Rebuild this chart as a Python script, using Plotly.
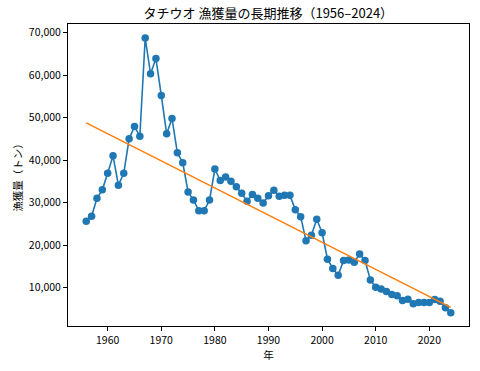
import numpy as np
import plotly.graph_objects as go

years = list(range(1956, 2025))
catch = [
    25600, 26800, 31000, 33000, 36900, 41000, 34100, 36900, 45000, 47900,  # 1956-1965
    45600, 68700, 60300, 63900, 55200, 46200, 49800, 41700, 39400, 32500,  # 1966-1975
    30600, 28100, 28100, 30600, 37900, 35200, 36000, 35000, 33700, 32200,  # 1976-1985
    30300, 31900, 31000, 29900, 31600, 32900, 31500, 31700, 31700, 28300,  # 1986-1995
    26700, 21000, 22300, 26100, 22900, 16700, 14500, 12900, 16400, 16500,  # 1996-2005
    16000, 17900, 16400, 11800, 10100, 9700, 9100, 8400, 8100, 7000,      # 2006-2015
    7300, 6200, 6500, 6500, 6500, 7200, 6800, 5300, 4100,                 # 2016-2024
]
y_ticks = [10000, 20000, 30000, 40000, 50000, 60000, 70000]
x_ticks = [1960, 1970, 1980, 1990, 2000, 2010, 2020]

coef = np.polyfit(years, catch, 1)
trend = np.polyval(coef, years)

FONT = "Noto Sans CJK JP, Noto Sans, DejaVu Sans, sans-serif"

fig = go.Figure()
fig.add_trace(go.Scatter(
    x=years, y=catch, mode="lines+markers",
    line=dict(color="#1f77b4", width=1.6),
    marker=dict(color="#1f77b4", size=7.5),
    showlegend=False,
))
fig.add_trace(go.Scatter(
    x=years, y=trend, mode="lines",
    line=dict(color="#ff7f0e", width=1.6),
    showlegend=False,
))

fig.update_layout(
    width=480, height=371,
    margin=dict(l=68, r=11, t=24, b=45),
    paper_bgcolor="white", plot_bgcolor="white",
    font=dict(family=FONT, size=10.5, color="black"),
    title=dict(text="タチウオ 漁獲量の長期推移（1956–2024）", x=0.559, xanchor="center",
               y=0.963, yanchor="middle", font=dict(size=13, color="black")),
)
fig.update_xaxes(
    range=[1952.6, 2027.4], tickvals=x_ticks, showgrid=False, zeroline=False,
    showline=True, linecolor="black", linewidth=1, mirror=True,
    ticks="outside", ticklen=4, tickcolor="black", automargin=False,
    title=dict(text="年", font=dict(size=10.5), standoff=4),
)
fig.update_yaxes(
    range=[980, 72000], tickvals=y_ticks, tickformat=",", showgrid=False, zeroline=False,
    showline=True, linecolor="black", linewidth=1, mirror=True,
    ticks="outside", ticklen=4, tickcolor="black", automargin=False,
    title=dict(text="漁獲量（トン）", font=dict(size=10.5), standoff=4),
)

fig.write_html("out.html", config={"displayModeBar": False},
               post_script="document.body.style.margin='0';")
